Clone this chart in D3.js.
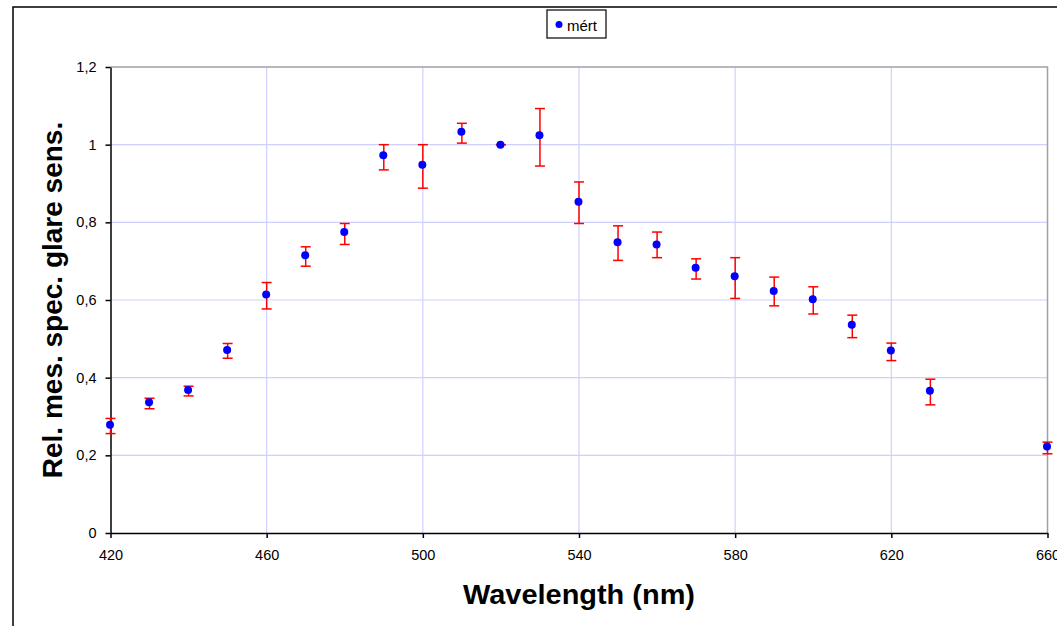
<!DOCTYPE html>
<html>
<head>
<meta charset="utf-8">
<script src="https://cdn.jsdelivr.net/npm/d3@7"></script>
<style>
  html, body { margin: 0; padding: 0; background: #fff; overflow: hidden; }
  svg { display: block; font-family: "Liberation Sans", Arial, sans-serif; }
</style>
</head>
<body>
<svg id="chart" width="1057" height="626"></svg>
<script>
// ---- data ----
const wavelengths = [420, 430, 440, 450, 460, 470, 480, 490, 500, 510, 520, 530, 540, 550, 560, 570, 580, 590, 600, 610, 620, 630, 660];
const values      = [0.279, 0.337, 0.368, 0.471, 0.614, 0.715, 0.775, 0.973, 0.948, 1.033, 1.000, 1.024, 0.853, 0.749, 0.743, 0.683, 0.661, 0.623, 0.602, 0.536, 0.470, 0.366, 0.223];
const errLow      = [0.256, 0.320, 0.353, 0.450, 0.577, 0.687, 0.743, 0.935, 0.888, 1.004, 1.000, 0.945, 0.797, 0.702, 0.709, 0.654, 0.604, 0.585, 0.564, 0.503, 0.444, 0.330, 0.204];
const errHigh     = [0.295, 0.347, 0.378, 0.488, 0.645, 0.737, 0.797, 1.000, 1.000, 1.055, 1.000, 1.093, 0.904, 0.791, 0.775, 0.706, 0.709, 0.659, 0.634, 0.561, 0.489, 0.396, 0.234];
const xTicks = [420, 460, 500, 540, 580, 620, 660];
const yTicks = [0, 0.2, 0.4, 0.6, 0.8, 1.0, 1.2];
const seriesName = "mért";
const xTitle = "Wavelength (nm)";
const yTitle = "Rel. mes. spec. glare sens.";

// ---- layout ----
const svg = d3.select("#chart");
const pLeft = 110.5, pRight = 1047.5, pTop = 67, pBottom = 533;
const x = d3.scaleLinear().domain([420, 660]).range([pLeft, pRight]);
const y = d3.scaleLinear().domain([0, 1.2]).range([pBottom, pTop]);
const fmt = d => d === 0 ? "0" : (d === 1 ? "1" : d3.format(".1f")(d).replace(".", ","));

// outer frame (extends past the right and bottom edges)
svg.append("rect").attr("x", 13).attr("y", 7).attr("width", 1100).attr("height", 700)
  .attr("fill", "#fff").attr("stroke", "#000").attr("stroke-width", 1.5);

// gridlines
const g = svg.append("g");
g.selectAll(".hg").data(yTicks.filter(d => d > 0 && d < 1.2)).enter().append("line")
  .attr("x1", pLeft).attr("x2", pRight).attr("y1", d => y(d)).attr("y2", d => y(d))
  .attr("stroke", "#d0d0ff").attr("stroke-width", 1.2);
g.selectAll(".vg").data(xTicks.filter(d => d > 420 && d < 660)).enter().append("line")
  .attr("y1", pTop).attr("y2", pBottom).attr("x1", d => x(d)).attr("x2", d => x(d))
  .attr("stroke", "#d0d0ff").attr("stroke-width", 1.2);

// plot border top/right (gray)
svg.append("path").attr("d", `M${pLeft},${pTop}H${pRight}V${pBottom}`)
  .attr("fill", "none").attr("stroke", "#a0a0a8").attr("stroke-width", 1.5);

// axes
const xAxis = d3.axisBottom(x).tickValues(xTicks).tickSize(5).tickSizeOuter(0).tickPadding(12).tickFormat(d3.format("d"));
const yAxis = d3.axisLeft(y).tickValues(yTicks).tickSize(5).tickSizeOuter(0).tickPadding(9).tickFormat(fmt);
const gx = svg.append("g").attr("transform", `translate(0,${pBottom})`).call(xAxis);
const gy = svg.append("g").attr("transform", `translate(${pLeft},0)`).call(yAxis);
[gx, gy].forEach(a => {
  a.selectAll("path,line").attr("stroke", "#000").attr("stroke-width", 1.5);
  a.selectAll("text").attr("font-size", 14.5).attr("fill", "#000")
    .attr("font-family", "'Liberation Sans', Arial, sans-serif");
});

// error bars
const pts = wavelengths.map((w, i) => ({w, v: values[i], lo: errLow[i], hi: errHigh[i]}));
const eb = svg.append("g").attr("stroke", "#ff0000").attr("stroke-width", 1.5);
eb.selectAll(".ev").data(pts).enter().append("line")
  .attr("x1", d => x(d.w)).attr("x2", d => x(d.w)).attr("y1", d => y(d.lo)).attr("y2", d => y(d.hi));
eb.selectAll(".ct").data(pts).enter().append("line")
  .attr("x1", d => x(d.w) - 5).attr("x2", d => x(d.w) + 5).attr("y1", d => y(d.hi)).attr("y2", d => y(d.hi));
eb.selectAll(".cb").data(pts).enter().append("line")
  .attr("x1", d => x(d.w) - 5).attr("x2", d => x(d.w) + 5).attr("y1", d => y(d.lo)).attr("y2", d => y(d.lo));

// points
svg.append("g").selectAll("circle").data(pts).enter().append("circle")
  .attr("cx", d => x(d.w) - 0.5).attr("cy", d => y(d.v)).attr("r", 4).attr("fill", "#0000ff");

// axis titles
svg.append("text").attr("x", 579).attr("y", 604).attr("text-anchor", "middle")
  .attr("font-size", 27).attr("font-weight", "bold")
  .attr("textLength", 232).attr("lengthAdjust", "spacingAndGlyphs").text(xTitle);
svg.append("text").attr("transform", "translate(62,300) rotate(-90)").attr("text-anchor", "middle")
  .attr("font-size", 28).attr("font-weight", "bold").text(yTitle);

// legend
const lg = svg.append("g");
lg.append("rect").attr("x", 547).attr("y", 10).attr("width", 59).attr("height", 28)
  .attr("fill", "#fff").attr("stroke", "#000").attr("stroke-width", 1.2);
lg.append("circle").attr("cx", 559).attr("cy", 24.5).attr("r", 3.5).attr("fill", "#0000ff");
lg.append("text").attr("x", 567).attr("y", 31).attr("font-size", 15).text(seriesName);
</script>
</body>
</html>
